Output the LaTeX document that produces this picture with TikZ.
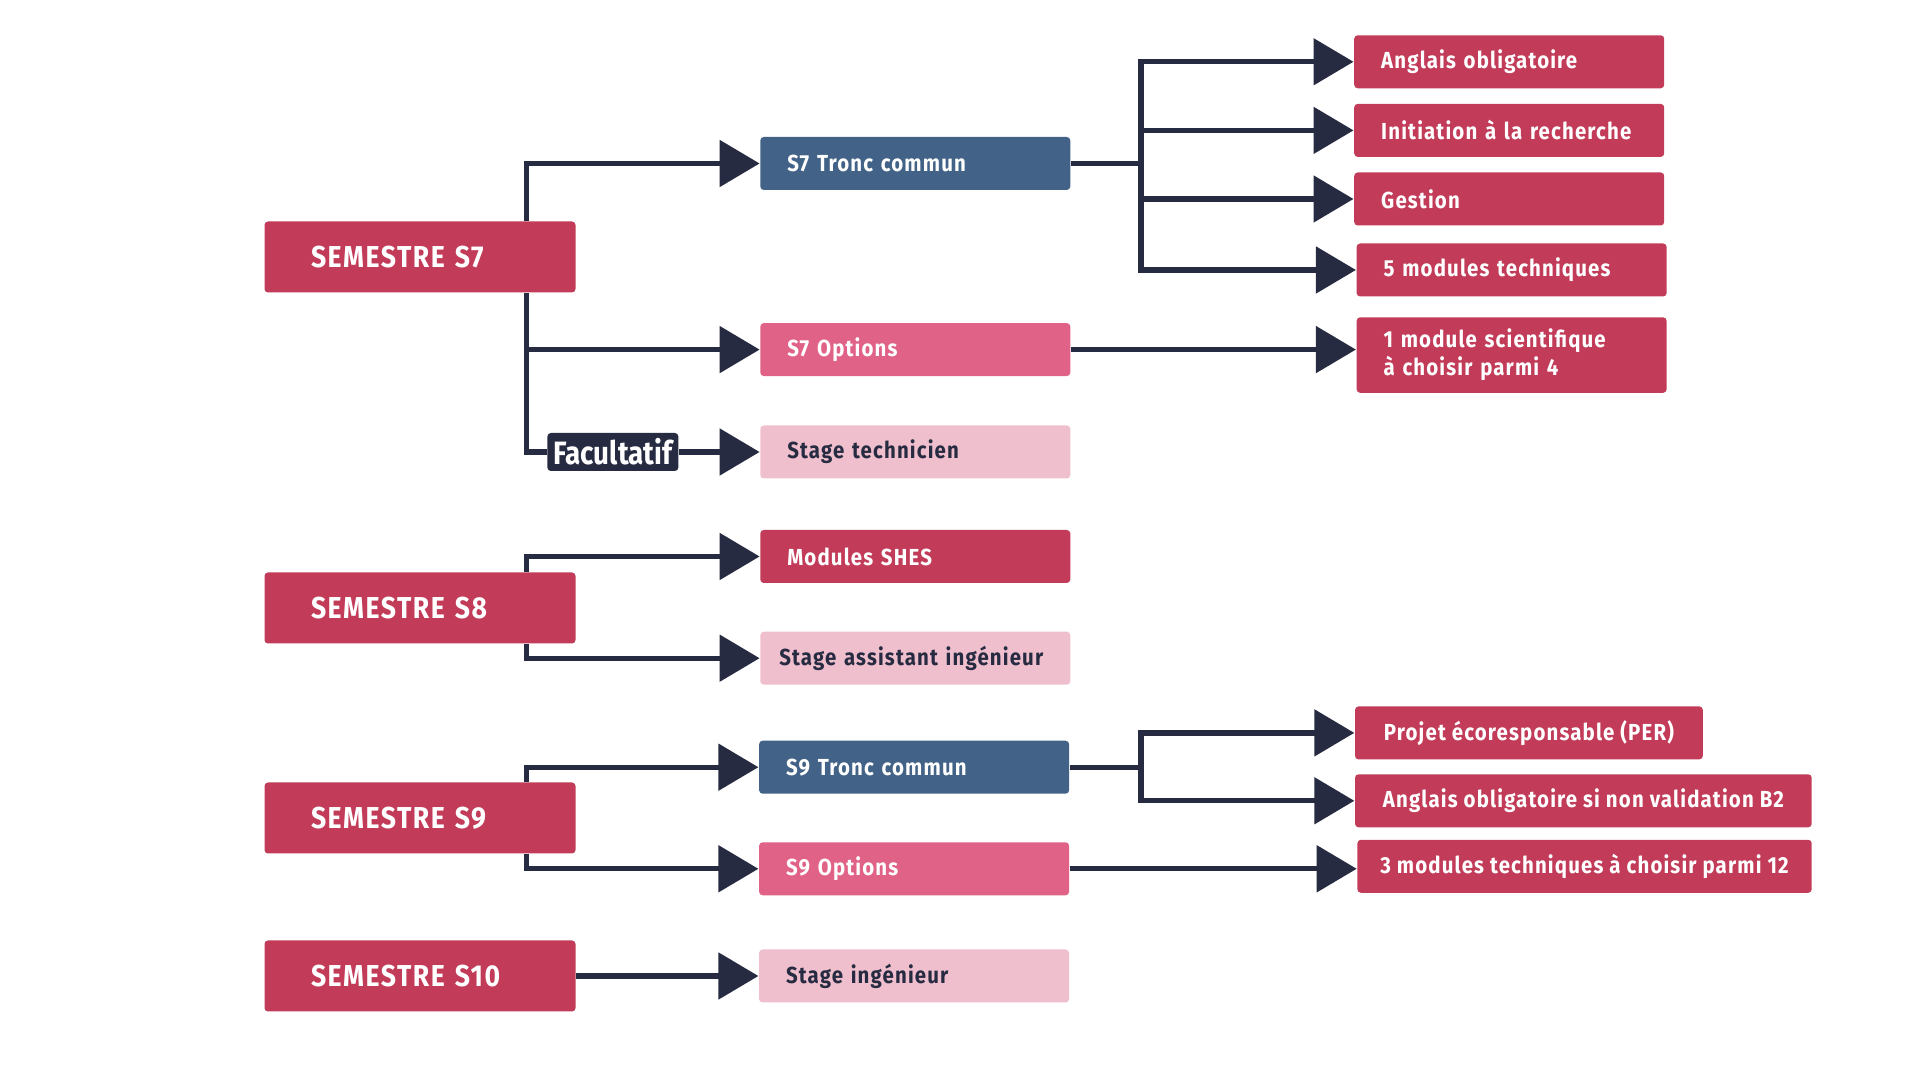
\documentclass[tikz,border=0pt]{standalone}
\usepackage{fontspec}
\setmainfont[FakeStretch=0.88, LetterSpace=5]{Fira Sans}
\newfontfamily\facfont[FakeStretch=0.86]{Fira Sans}
\usetikzlibrary{arrows.meta}
\definecolor{semred}{HTML}{C23C59}
\definecolor{semblue}{HTML}{426387}
\definecolor{sempink}{HTML}{E06286}
\definecolor{semlight}{HTML}{F0BFCD}
\definecolor{semnavy}{HTML}{272B41}
\def\midfont{\bfseries\fontsize{6.6}{8}\selectfont}

\begin{document}
\begin{tikzpicture}[
	link/.style={line width=1.5pt, color=semnavy},
	tip/.style={link, -{Triangle[length=4mm,width=4.6mm]}},
	sem/.style={fill=semred, text=white, font=\bfseries\fontsize{8.6}{10}\selectfont, text width=2.18cm, inner xsep=0.465cm, minimum height=0.71cm, align=left, rounded corners=1pt},
	mid/.style={font=\midfont, text width=2.56cm, inner xsep=0.27cm, minimum height=0.53cm, align=left, rounded corners=1pt},
	wide/.style={font=\midfont, fill=semred, text=white, inner xsep=0, minimum height=0.53cm, anchor=west, rounded corners=1pt}
	]
			%%%%% START %%%%%
			
			\fill[white] (0, 0) rectangle (19.2, 10.8);
			\useasboundingbox (0, 0) rectangle (19.2, 10.8);
			
			% semestres
			\node[sem] (s7) at (4.20, 8.23) {SEMESTRE S7};
			\node[sem] (s8) at (4.20, 4.72) {SEMESTRE S8};
			\node[sem] (s9) at (4.20, 2.62) {SEMESTRE S9};
			\node[sem] (s10) at (4.20, 1.04) {SEMESTRE S10};
			
			% S7
			\node[mid, fill=semblue, text=white] (tronc7) at (9.153, 9.165) {S7 Tronc commun};
			\node[mid, fill=sempink, text=white] (opt7) at (9.153, 7.304) {S7 Options};
			\node[mid, fill=semlight, text=semnavy] (stech) at (9.153, 6.28) {Stage technicien};
			\node[fill=semnavy, text=white, font=\facfont\bfseries\fontsize{9.2}{10}\selectfont, minimum width=1.31cm, minimum height=0.38cm, inner sep=0.03cm, rounded corners=1pt] (fac) at (6.129, 6.28) {Facultatif};
			
			\node[mid, fill=semred, text=white] (angl) at (15.092, 10.182) {Anglais obligatoire};
			\node[mid, fill=semred, text=white] (init) at (15.092, 9.496) {Initiation à la recherche};
			\node[mid, fill=semred, text=white] (gest) at (15.092, 8.810) {Gestion};
			\node[mid, fill=semred, text=white] (tech5) at (15.116, 8.100) {5 modules techniques};
			\node[mid, fill=semred, text=white, minimum height=0.735cm] (sci1) at (15.116, 7.249) {1 module scientifique\\à choisir parmi 4};
			
			% S8
			\node[mid, fill=semred, text=white] (shes) at (9.153, 5.235) {Modules SHES};
			\node[mid, fill=semlight, text=semnavy, text width=2.72cm, inner xsep=0.19cm] (sasst) at (9.153, 4.218) {Stage assistant ingénieur};
			
			% S9
			\node[mid, fill=semblue, text=white] (tronc9) at (9.141, 3.128) {S9 Tronc commun};
			\node[mid, fill=sempink, text=white] (opt9) at (9.141, 2.112) {S9 Options};
			\node[wide, minimum width=3.478cm] (per) at (13.543, 3.471) {Projet écoresponsable (PER)};
			\node[wide, minimum width=4.567cm] (angb2) at (13.543, 2.792) {Anglais obligatoire si non validation B2};
			\node[wide, minimum width=4.543cm] (tech3) at (13.567, 2.137) {3 modules techniques à choisir parmi 12};
			
			% S10
			\node[mid, fill=semlight, text=semnavy] (sing) at (9.141, 1.04) {Stage ingénieur};
			
			% liaisons
			\coordinate (spine) at (5.265, 0);
			\coordinate (hub7) at (11.41, 9.165);
			\coordinate (hub9) at (11.41, 3.128);
			
			\draw[tip] (s7.north -| spine) |- (tronc7.west);
			\draw[tip] (s7.south -| spine) |- (opt7.west);
			\draw[link] (s7.south -| spine) |- (fac.west);
			\draw[tip] (fac.east) -- (stech.west);
			
			\draw[link] (tronc7.east) -- (hub7);
			\foreach \n in {angl, init, gest, tech5}
				\draw[tip] (hub7) |- (\n.west);
			\draw[tip] (opt7.east) -- (opt7.east -| sci1.west);
			
			\draw[tip] (s8.north -| spine) |- (shes.west);
			\draw[tip] (s8.south -| spine) |- (sasst.west);
			
			\draw[tip] (s9.north -| spine) |- (tronc9.west);
			\draw[tip] (s9.south -| spine) |- (opt9.west);
			\draw[link] (tronc9.east) -- (hub9);
			\foreach \n in {per, angb2}
				\draw[tip] (hub9) |- (\n.west);
			\draw[tip] (opt9.east) -- (opt9.east -| tech3.west);
			
			\draw[tip] (s10.east) -- (sing.west);
			
			%%%%% END %%%%%
\end{tikzpicture}
\end{document}
